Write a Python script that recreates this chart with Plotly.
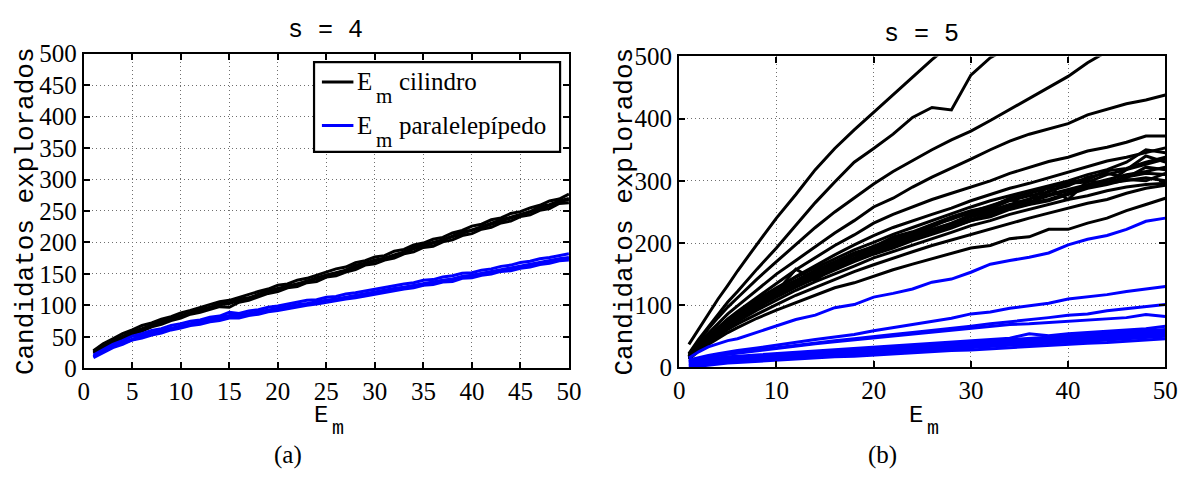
import plotly.graph_objects as go

W, H = 1200, 491

# ---------------- data: s = 4 (every integer E_m from 1 to 50) ----------------
x_s4 = list(range(1, 51))

cil_s4_a = [26, 36, 43, 51, 58, 63, 69, 74, 79, 84, 89, 93, 97, 103, 104, 110, 112, 118, 123, 127,
            131, 135, 138, 144, 148, 152, 156, 164, 167, 172, 175, 180, 185, 192, 196, 200, 204, 210, 217, 219,
            225, 231, 236, 240, 245, 249, 257, 260, 266, 270]
cil_s4_b = [28, 39, 47, 55, 61, 68, 72, 78, 82, 88, 92, 97, 101, 106, 108, 113, 117, 122, 126, 132,
            134, 140, 143, 148, 152, 158, 161, 168, 171, 177, 179, 186, 189, 196, 199, 205, 208, 215, 219, 226,
            229, 236, 239, 246, 249, 255, 259, 266, 269, 277]
cil_s4_c = [24, 33, 41, 47, 55, 59, 66, 70, 76, 80, 86, 89, 94, 98, 97, 105, 108, 113, 119, 122,
            128, 130, 136, 138, 145, 147, 153, 157, 164, 166, 172, 175, 182, 185, 192, 194, 201, 204, 211, 214,
            221, 224, 231, 234, 241, 244, 251, 254, 262, 263]
cil_s4_d = [25, 35, 44, 50, 57, 62, 68, 73, 79, 83, 88, 92, 96, 101, 103, 108, 111, 116, 121, 126,
            130, 133, 139, 142, 148, 151, 155, 161, 166, 170, 175, 178, 184, 190, 194, 199, 203, 208, 214, 220,
            224, 229, 234, 239, 243, 248, 254, 258, 265, 268]

par_s4_a = [19, 28, 35, 41, 47, 52, 56, 60, 64, 68, 71, 74, 77, 80, 84, 84, 87, 90, 93, 96,
            98, 101, 103, 106, 108, 110, 113, 116, 118, 121, 124, 127, 129, 132, 135, 137, 140, 142, 146, 148,
            151, 154, 157, 160, 162, 165, 169, 171, 174, 176]
par_s4_b = [21, 30, 38, 44, 51, 55, 60, 63, 68, 71, 75, 77, 81, 83, 89, 87, 91, 93, 97, 99,
            102, 104, 108, 109, 113, 114, 118, 120, 123, 125, 129, 131, 134, 136, 140, 141, 145, 147, 151, 152,
            156, 158, 162, 164, 168, 170, 174, 176, 179, 182]
par_s4_c = [17, 25, 33, 38, 45, 48, 53, 56, 61, 64, 68, 70, 74, 76, 80, 80, 84, 86, 90, 92,
            95, 97, 100, 102, 105, 107, 110, 112, 115, 117, 121, 123, 126, 128, 132, 133, 137, 138, 143, 144,
            148, 150, 154, 155, 159, 161, 165, 167, 171, 172]
par_s4_d = [18, 27, 34, 40, 46, 51, 55, 59, 63, 67, 70, 73, 76, 79, 82, 83, 86, 89, 92, 95,
            97, 100, 102, 105, 107, 109, 112, 115, 117, 120, 123, 126, 128, 131, 134, 136, 139, 141, 145, 147,
            150, 153, 156, 159, 161, 164, 168, 170, 173, 175]

# ---------------- data: s = 5 ----------------
x_s5 = [1, 2, 3, 4, 5, 6, 8, 10, 12, 14, 16, 18, 20, 22, 24, 26, 28, 30, 32, 34, 36, 38, 40, 42, 44, 46, 48, 50]

cil_s5 = [
    [37, 62, 86, 110, 132, 155, 198, 240, 278, 318, 352, 382, 410, 438, 466, 495, 520, 545, 570, 595, 620, 645, 668, 692, 715, 738, 760, 782],
    [22, 45, 65, 85, 105, 122, 158, 192, 228, 265, 298, 330, 352, 375, 402, 418, 414, 470, 498, 515, 535, 555, 575, 595, 612, 630, 648, 665],
    [20, 42, 62, 80, 97, 112, 142, 170, 197, 225, 250, 273, 295, 315, 333, 350, 366, 380, 397, 415, 433, 450, 468, 490, 508, 520, 538, 555],
    [18, 38, 55, 70, 86, 99, 124, 150, 172, 194, 216, 236, 258, 272, 290, 306, 320, 335, 350, 364, 375, 384, 392, 406, 415, 424, 430, 438],
    [17, 35, 50, 64, 78, 90, 113, 135, 157, 177, 196, 213, 232, 246, 258, 270, 280, 290, 300, 312, 322, 331, 338, 348, 354, 362, 372, 372],
    [16, 33, 48, 61, 74, 85, 106, 126, 146, 164, 181, 197, 212, 225, 236, 246, 256, 268, 278, 288, 296, 305, 315, 324, 332, 338, 346, 353],
    [17, 35, 50, 64, 77, 88, 109, 128, 145, 160, 175, 189, 201, 214, 225, 236, 248, 258, 268, 276, 285, 292, 300, 310, 318, 330, 350, 345],
    [15, 32, 46, 59, 70, 80, 101, 121, 158, 140, 162, 176, 190, 200, 212, 222, 232, 245, 252, 262, 270, 290, 270, 300, 296, 318, 326, 335],
    [16, 34, 48, 61, 73, 84, 104, 119, 134, 150, 168, 181, 195, 206, 216, 229, 238, 250, 260, 270, 262, 284, 292, 306, 312, 305, 322, 318],
    [14, 30, 44, 56, 67, 77, 96, 114, 130, 146, 160, 174, 186, 196, 208, 219, 228, 238, 249, 258, 266, 276, 284, 292, 298, 306, 312, 310],
    [18, 36, 51, 64, 76, 86, 106, 124, 140, 156, 170, 184, 194, 210, 218, 230, 242, 252, 258, 272, 280, 288, 298, 302, 316, 320, 330, 338],
    [15, 31, 45, 57, 68, 79, 99, 117, 133, 148, 160, 172, 183, 194, 205, 217, 226, 236, 246, 255, 264, 270, 280, 290, 296, 300, 305, 300],
    [17, 34, 49, 62, 74, 85, 106, 122, 138, 153, 166, 180, 192, 204, 214, 226, 240, 247, 255, 268, 276, 282, 296, 298, 310, 318, 340, 330],
    [16, 32, 46, 58, 69, 80, 100, 116, 132, 149, 162, 174, 186, 199, 211, 220, 231, 242, 251, 261, 271, 278, 286, 293, 301, 310, 315, 322],
    [14, 29, 42, 54, 64, 74, 92, 108, 124, 138, 150, 163, 176, 186, 197, 207, 217, 228, 236, 246, 254, 262, 270, 276, 284, 290, 294, 296],
    [15, 31, 45, 57, 68, 78, 97, 113, 129, 143, 157, 170, 182, 192, 204, 214, 224, 236, 242, 254, 262, 268, 278, 288, 294, 302, 300, 312],
    [14, 28, 40, 51, 61, 70, 86, 101, 116, 129, 142, 154, 165, 176, 186, 196, 205, 214, 222, 232, 240, 248, 256, 264, 270, 280, 288, 293],
    [13, 26, 37, 47, 56, 64, 79, 92, 104, 116, 128, 136, 147, 157, 166, 175, 184, 192, 196, 207, 210, 222, 222, 232, 240, 252, 262, 272],
]

par_s5 = [
    [15, 25, 33, 38, 43, 46, 56, 67, 77, 84, 96, 101, 113, 119, 126, 137, 142, 153, 166, 172, 177, 184, 197, 206, 212, 222, 235, 240],
    [12, 16, 19, 22, 25, 27, 31, 36, 41, 45, 49, 53, 59, 64, 69, 74, 79, 86, 89, 95, 99, 103, 110, 113, 117, 122, 126, 130],
    [10, 14, 17, 20, 22, 24, 28, 32, 36, 40, 43, 46, 50, 53, 56, 59, 62, 66, 70, 73, 76, 80, 84, 86, 91, 94, 97, 101],
    [9, 13, 16, 19, 21, 23, 27, 30, 34, 38, 41, 44, 47, 51, 54, 57, 60, 62, 65, 69, 70, 72, 73, 76, 78, 80, 85, 82],
    [10, 12, 14, 15, 17, 18, 20, 22, 24, 26, 28, 31, 33, 35, 37, 39, 41, 43, 45, 47, 54, 51, 54, 56, 58, 60, 62, 66],
    [8, 10, 12, 13, 15, 16, 18, 20, 22, 24, 26, 28, 30, 32, 34, 36, 38, 40, 42, 44, 46, 48, 50, 52, 54, 56, 58, 61],
    [7, 9, 11, 12, 14, 15, 17, 19, 21, 23, 25, 27, 29, 31, 33, 35, 37, 39, 40, 43, 45, 46, 49, 50, 53, 55, 56, 59],
    [6, 8, 10, 11, 13, 14, 16, 18, 20, 22, 24, 26, 28, 30, 32, 34, 36, 38, 40, 41, 43, 45, 47, 49, 51, 53, 55, 57],
    [4, 6, 8, 9, 11, 12, 14, 16, 18, 20, 22, 24, 26, 28, 29, 31, 33, 35, 37, 38, 40, 42, 44, 46, 48, 50, 52, 54],
    [3, 5, 7, 8, 10, 11, 13, 15, 17, 19, 21, 23, 25, 26, 28, 30, 32, 34, 35, 37, 39, 41, 42, 44, 46, 48, 50, 52],
    [2, 4, 6, 7, 9, 10, 12, 14, 16, 18, 20, 21, 23, 25, 27, 28, 30, 32, 34, 35, 37, 39, 41, 42, 44, 46, 48, 50],
    [0, 2, 4, 5, 7, 8, 10, 12, 13, 15, 17, 18, 20, 22, 23, 25, 27, 28, 30, 32, 33, 35, 37, 39, 40, 42, 44, 46],
]

x_ticks_s4 = list(range(0, 51, 5))
y_ticks_s4 = list(range(0, 501, 50))
x_ticks_s5 = list(range(0, 51, 10))
y_ticks_s5 = list(range(0, 501, 100))

BLACK = "#000000"
BLUE = "#0000ff"
MONO = "Liberation Mono"
SERIF = "Liberation Serif"


def px(x):
    return x / W


def py(y):
    return 1 - y / H


fig = go.Figure()

for ys in (cil_s4_a, cil_s4_b, cil_s4_c, cil_s4_d):
    fig.add_trace(go.Scatter(x=x_s4, y=ys, mode="lines", line=dict(color=BLACK, width=3),
                             xaxis="x", yaxis="y", showlegend=False, hoverinfo="skip"))
for ys in (par_s4_a, par_s4_b, par_s4_c, par_s4_d):
    fig.add_trace(go.Scatter(x=x_s4, y=ys, mode="lines", line=dict(color=BLUE, width=3),
                             xaxis="x", yaxis="y", showlegend=False, hoverinfo="skip"))

for ys in cil_s5:
    fig.add_trace(go.Scatter(x=x_s5, y=ys, mode="lines", line=dict(color=BLACK, width=3),
                             xaxis="x2", yaxis="y2", showlegend=False, hoverinfo="skip"))
for ys in par_s5:
    fig.add_trace(go.Scatter(x=x_s5, y=ys, mode="lines", line=dict(color=BLUE, width=3),
                             xaxis="x2", yaxis="y2", showlegend=False, hoverinfo="skip"))

axis_common = dict(
    showline=True, linewidth=2.2, linecolor=BLACK, mirror="ticks",
    ticks="inside", ticklen=6, tickwidth=1.6, tickcolor=BLACK,
    showgrid=True, gridcolor="#6f6f6f", griddash="1px,3px", gridwidth=1,
    zeroline=False, tickfont=dict(family=SERIF, size=25, color=BLACK),
)

fig.update_layout(
    width=W, height=H,
    margin=dict(l=0, r=0, t=0, b=0),
    paper_bgcolor="white", plot_bgcolor="white",
    showlegend=False,
    xaxis=dict(domain=[px(79), px(572)], range=[0, 50], tickvals=x_ticks_s4, anchor="y", **axis_common),
    yaxis=dict(domain=[py(376), py(43)], range=[0, 500], tickvals=y_ticks_s4, anchor="x", **axis_common),
    xaxis2=dict(domain=[px(684), px(1178)], range=[0, 50], tickvals=x_ticks_s5, anchor="y2", **axis_common),
    yaxis2=dict(domain=[py(375), py(46)], range=[0, 500], tickvals=y_ticks_s5, anchor="x2", **axis_common),
)

ann = []


def text(x, y, s, family, size, xanchor="center", yanchor="middle", angle=0):
    ann.append(dict(x=px(x), y=py(y), xref="paper", yref="paper", text=s, showarrow=False,
                    xanchor=xanchor, yanchor=yanchor, textangle=angle,
                    font=dict(family=family, size=size, color=BLACK)))


# titles
text(325, 18, "s = 4", MONO, 25)
text(930, 23, "s = 5", MONO, 25)
# y labels
text(21, 210, "Candidatos explorados", MONO, 26, angle=-90)
text(629, 210, "Candidatos explorados", MONO, 26, angle=-90)
# x labels (E with subscript m placed to its lower right)
text(329, 409, "E", MONO, 24, xanchor="right", yanchor="top")
text(329, 425, "m", MONO, 20, xanchor="left", yanchor="top")
text(934, 409, "E", MONO, 24, xanchor="right", yanchor="top")
text(934, 425, "m", MONO, 20, xanchor="left", yanchor="top")
# sub-figure captions
text(287, 468, "(a)", SERIF, 25)
text(891, 468, "(b)", SERIF, 25)

# legend box for the s = 4 panel
shapes = [
    dict(type="rect", xref="paper", yref="paper", x0=px(313), x1=px(563), y0=py(147), y1=py(52),
         line=dict(color=BLACK, width=2.2), fillcolor="white", layer="above"),
    dict(type="line", xref="paper", yref="paper", x0=px(321), x1=px(353), y0=py(73), y1=py(73),
         line=dict(color=BLACK, width=3), layer="above"),
    dict(type="line", xref="paper", yref="paper", x0=px(321), x1=px(353), y0=py(119), y1=py(119),
         line=dict(color=BLUE, width=3), layer="above"),
]
text(374, 73, "E", SERIF, 25, xanchor="right")
text(374, 88, "m", SERIF, 21, xanchor="left")
text(397, 73, "cilindro", SERIF, 25, xanchor="left")
text(374, 119, "E", SERIF, 25, xanchor="right")
text(374, 134, "m", SERIF, 21, xanchor="left")
text(397, 119, "paralelepípedo", SERIF, 25, xanchor="left")

fig.update_layout(annotations=ann, shapes=shapes)

fig.write_html("out.html")
